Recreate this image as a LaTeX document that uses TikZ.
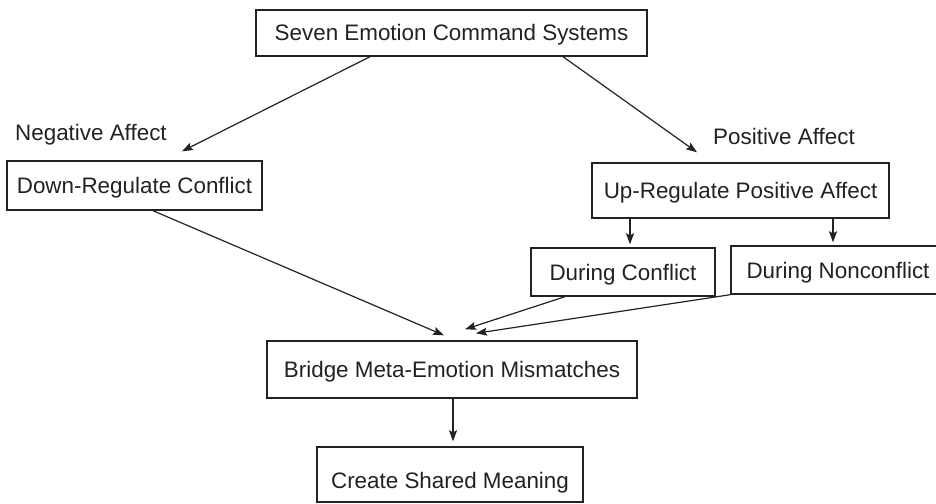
\documentclass[tikz,border=0pt]{standalone}
\usepackage{fontspec}
\setmainfont{Liberation Sans}
\usetikzlibrary{arrows.meta}
\definecolor{ink}{HTML}{222222}
\begin{document}
\begin{tikzpicture}[x=1pt,y=-1pt,
  every node/.style={font=\fontsize{22.4}{26}\selectfont, text=ink},
  box/.style={draw=ink, line width=1.4pt, inner sep=0pt, align=center,
              text height=16pt, text depth=0pt},
  lbl/.style={inner sep=0pt, anchor=base west},
  arr/.style={draw=ink, line width=1.2pt,
              -{Stealth[length=11pt, width=8pt, inset=2pt]}}]
  \useasboundingbox (0,0) rectangle (936,503);

  % boxes
  \node[box, minimum width=391pt, minimum height=46pt] (top)    at (451.5,33)  {Seven Emotion Command Systems};
  \node[box, minimum width=255pt, minimum height=49pt] (down)   at (134.5,185.5) {Down-Regulate Conflict};
  \node[box, minimum width=297pt, minimum height=55pt] (up)     at (740.5,190.5) {Up-Regulate Positive Affect};
  \node[box, minimum width=184pt, minimum height=48pt] (dconf)  at (623,272)   {During Conflict};
  \node[box, minimum width=214pt, minimum height=48pt] (dnon)   at (838,270)   {During Nonconflict};
  \node[box, minimum width=370pt, minimum height=57pt] (bridge) at (452,369.5) {Bridge Meta-Emotion Mismatches};
  \node[box, minimum width=266pt, minimum height=55pt, text height=27pt] (create) at (450,474.5) {Create Shared Meaning};

  % free labels
  \node[lbl] (neg) at (15,140)  {Negative Affect};
  \node[lbl] (pos) at (713,144) {Positive Affect};

  % connectors
  \draw[arr] ([xshift=-81.5pt]top.south) -- ([xshift=47.5pt,yshift=9pt]down.north);
  \draw[arr] ([xshift=111.5pt]top.south) -- ([xshift=-43.5pt,yshift=10pt]up.north);
  \draw[arr] ([xshift=-110.5pt]up.south) -- ([xshift=7pt,yshift=3pt]dconf.north);
  \draw[arr] ([xshift=92.5pt]up.south)   -- ([xshift=-5pt,yshift=3pt]dnon.north);
  \draw[arr] ([xshift=18.5pt]down.south) -- ([xshift=-8pt,yshift=5pt]bridge.north);
  \draw[arr] ([xshift=-58pt]dconf.south) -- ([xshift=13pt,yshift=11pt]bridge.north);
  \draw[arr] (dnon.south west)           -- ([xshift=24pt,yshift=7pt]bridge.north);
  \draw[arr] ([xshift=1pt]bridge.south)  -- ([xshift=3pt,yshift=5pt]create.north);
\end{tikzpicture}
\end{document}
